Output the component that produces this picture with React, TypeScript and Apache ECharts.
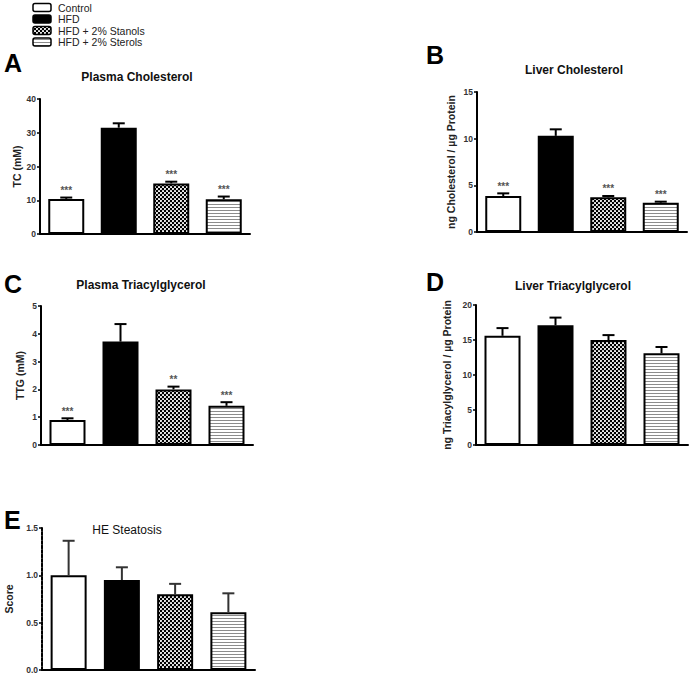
import React, { useEffect, useRef } from "react";
import * as echarts from "echarts";

// ---------- data ----------
const groups = ["Control", "HFD", "HFD + 2% Stanols", "HFD + 2% Sterols"];

const plasmaCholMean = [10.4, 31.5, 15.0, 10.3];
const plasmaCholTop = [10.8, 32.8, 15.5, 11.1];
const plasmaCholStars = ["***", "", "***", "***"];

const liverCholMean = [3.86, 10.3, 3.71, 3.14];
const liverCholTop = [4.14, 11.0, 3.86, 3.25];
const liverCholStars = ["***", "", "***", "***"];

const plasmaTgMean = [0.9, 3.72, 2.0, 1.41];
const plasmaTgTop = [0.96, 4.35, 2.1, 1.54];
const plasmaTgStars = ["***", "", "**", "***"];

const liverTgMean = [15.6, 17.1, 15.0, 13.1];
const liverTgTop = [16.7, 18.2, 15.7, 14.0];
const liverTgStars = ["", "", "", ""];

const steatosisMean = [1.0, 0.95, 0.8, 0.61];
const steatosisTop = [1.365, 1.085, 0.91, 0.81];
const steatosisStars = ["", "", "", ""];

const FONT = "'Liberation Sans', Arial, sans-serif";

function makeStanolCanvas() {
  const c = document.createElement("canvas");
  c.width = 4;
  c.height = 4;
  const ctx = c.getContext("2d")!;
  ctx.fillStyle = "#000";
  ctx.fillRect(0, 0, 4, 4);
  ctx.fillStyle = "#fff";
  ctx.beginPath();
  ctx.arc(1, 1, 1.05, 0, Math.PI * 2);
  ctx.arc(3, 3, 1.05, 0, Math.PI * 2);
  ctx.fill();
  return c;
}

function makeSterolCanvas() {
  const c = document.createElement("canvas");
  c.width = 4;
  c.height = 3;
  const ctx = c.getContext("2d")!;
  ctx.fillStyle = "#fff";
  ctx.fillRect(0, 0, 4, 3);
  ctx.fillStyle = "#8c8c8c";
  ctx.fillRect(0, 0, 4, 1);
  return c;
}

export default function App() {
  const ref = useRef<HTMLDivElement>(null);

  useEffect(() => {
    if (!ref.current) return;
    const chart = echarts.init(ref.current, null, { renderer: "svg" });

    const stanol: any = { image: makeStanolCanvas(), repeat: "repeat", imageWidth: 4, imageHeight: 4 };
    const sterol: any = { image: makeSterolCanvas(), repeat: "repeat", imageWidth: 4, imageHeight: 3 };
    const fills: any[] = ["#fff", "#000", stanol, sterol];

    const panels = [
      {
        letter: "A", lx: 4, ly: 63, title: "Plasma Cholesterol", tx: 137, ty: 77, bold: true,
        yName: "TC (mM)", nameGap: 18, max: 40, interval: 10, dec: 0, dashed: false,
        mean: plasmaCholMean, top: plasmaCholTop, stars: plasmaCholStars,
        grid: { left: 40, top: 99, width: 210, height: 135 },
      },
      {
        letter: "B", lx: 426, ly: 55, title: "Liver Cholesterol", tx: 574, ty: 70, bold: true,
        yName: "ng Cholesterol / µg Protein", nameGap: 21, max: 15, interval: 5, dec: 0, dashed: false,
        mean: liverCholMean, top: liverCholTop, stars: liverCholStars,
        grid: { left: 477, top: 92, width: 210, height: 140 },
      },
      {
        letter: "C", lx: 4, ly: 284, title: "Plasma Triacylglycerol", tx: 141, ty: 285, bold: true,
        yName: "TTG (mM)", nameGap: 16, max: 5, interval: 1, dec: 0, dashed: false,
        mean: plasmaTgMean, top: plasmaTgTop, stars: plasmaTgStars,
        grid: { left: 41, top: 306, width: 212, height: 139 },
      },
      {
        letter: "D", lx: 426, ly: 282, title: "Liver Triacylglycerol", tx: 573, ty: 286, bold: true,
        yName: "ng Triacylglycerol / µg Protein", nameGap: 24, max: 20, interval: 5, dec: 0, dashed: false,
        mean: liverTgMean, top: liverTgTop, stars: liverTgStars,
        grid: { left: 476, top: 305, width: 212, height: 140 },
      },
      {
        letter: "E", lx: 4, ly: 520, title: "HE Steatosis", tx: 127, ty: 530, bold: false,
        yName: "Score", nameGap: 28, max: 1.5, interval: 0.5, dec: 1, dashed: true,
        mean: steatosisMean, top: steatosisTop, stars: steatosisStars,
        grid: { left: 42, top: 528, width: 213, height: 142 },
      },
    ];

    const graphics: any[] = [];
    panels.forEach((p) => {
      graphics.push({
        type: "text", x: p.lx, y: p.ly,
        style: { text: p.letter, font: `bold 25px ${FONT}`, fill: "#000", textAlign: "left", align: "left", textVerticalAlign: "middle", verticalAlign: "middle" },
      });
      graphics.push({
        type: "text", x: p.tx, y: p.ty,
        style: { text: p.title, font: `${p.bold ? "bold " : ""}12px ${FONT}`, fill: "#111", textAlign: "center", align: "center", textVerticalAlign: "middle", verticalAlign: "middle" },
      });
    });
    const legendRows = [7.5, 19, 30.5, 42];
    groups.forEach((g, i) => {
      graphics.push({
        type: "rect", shape: { x: 33, y: legendRows[i] - 4, width: 18, height: 8, r: 2 },
        style: { fill: fills[i], stroke: "#000", lineWidth: 1.5 },
      });
      graphics.push({
        type: "text", x: 58, y: legendRows[i],
        style: { text: g, font: `10.5px ${FONT}`, fill: "#222", textAlign: "left", align: "left", textVerticalAlign: "middle", verticalAlign: "middle" },
      });
    });

    const option: any = {
      animation: false,
      backgroundColor: "#fff",
      grid: panels.map((p) => ({ ...p.grid, containLabel: false })),
      xAxis: panels.map((p, k) => ({
        type: "category", gridIndex: k, data: groups,
        axisLine: { show: true, lineStyle: { color: "#000", width: 2 } },
        axisTick: { show: false }, axisLabel: { show: false }, splitLine: { show: false },
      })),
      yAxis: panels.map((p, k) => ({
        type: "value", gridIndex: k, min: 0, max: p.max, interval: p.interval,
        name: p.yName, nameLocation: "middle", nameGap: p.nameGap,
        nameTextStyle: { fontFamily: FONT, fontWeight: "bold", fontSize: 10.5, color: "#222" },
        axisLine: { show: true, lineStyle: { color: "#000", width: 2, type: p.dashed ? [3, 1.5] : "solid" } },
        axisTick: { show: true, length: 3, lineStyle: { color: "#000", width: 1.5 } },
        axisLabel: {
          margin: 4, fontFamily: FONT, fontWeight: "bold", fontSize: 8.5, color: "#333",
          formatter: (v: number) => v.toFixed(p.dec),
        },
        splitLine: { show: false },
      })),
      graphic: graphics,
      series: panels.flatMap((p, k) => [
        {
          type: "bar", xAxisIndex: k, yAxisIndex: k, barWidth: 36, z: 2,
          data: p.mean.map((v, i) => ({ value: v, itemStyle: { color: fills[i], borderColor: "#000", borderWidth: 2 } })),
        },
        {
          type: "custom", xAxisIndex: k, yAxisIndex: k, z: 3,
          data: p.mean.map((v, i) => [i, v, p.top[i]]),
          renderItem: (params: any, api: any) => {
            const i = api.value(0);
            const b = api.coord([i, api.value(1)]);
            const t = api.coord([i, api.value(2)]);
            const col = k === 4 ? "#333" : "#000";
            const children: any[] = [
              { type: "line", shape: { x1: b[0], y1: b[1], x2: t[0], y2: t[1] }, style: { stroke: col, lineWidth: 2 } },
              { type: "line", shape: { x1: t[0] - 6, y1: t[1], x2: t[0] + 6, y2: t[1] }, style: { stroke: col, lineWidth: 2 } },
            ];
            const s = p.stars[params.dataIndex];
            if (s) {
              children.push({
                type: "text", x: t[0], y: t[1] - 2,
                style: { text: s, font: `bold 10px ${FONT}`, fill: "#555", textAlign: "center", align: "center", textVerticalAlign: "bottom", verticalAlign: "bottom" },
              });
            }
            return { type: "group", children };
          },
        },
      ]),
    };

    chart.setOption(option);
    return () => chart.dispose();
  }, []);

  return (
    <div
      ref={ref}
      style={{ position: "absolute", left: 0, top: 0, width: 691, height: 677, background: "#fff" }}
    />
  );
}
